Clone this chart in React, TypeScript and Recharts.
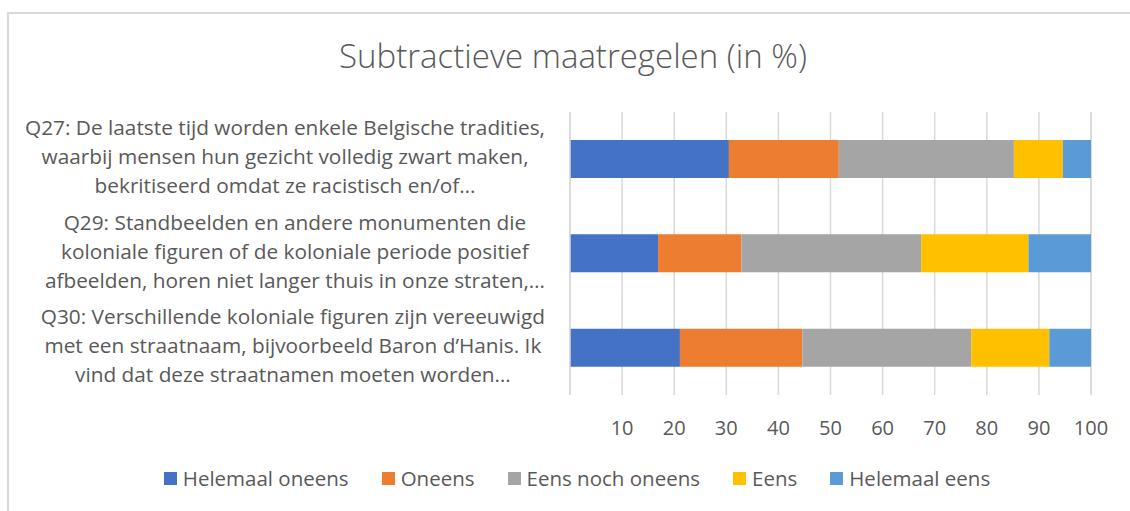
import React from "react";
import { BarChart, Bar, XAxis, YAxis, CartesianGrid } from "recharts";

const categories: string[][] = [
  [
    "Q27: De laatste tijd worden enkele Belgische tradities,",
    "waarbij mensen hun gezicht volledig zwart maken,",
    "bekritiseerd omdat ze racistisch en/of…",
  ],
  [
    "Q29: Standbeelden en andere monumenten die",
    "koloniale figuren of de koloniale periode positief",
    "afbeelden, horen niet langer thuis in onze straten,…",
  ],
  [
    "Q30: Verschillende koloniale figuren zijn vereeuwigd",
    "met een straatnaam, bijvoorbeeld Baron d’Hanis. Ik",
    "vind dat deze straatnamen moeten worden…",
  ],
];

const helemaalOneens = [30.5, 16.9, 21.1];
const oneens = [21.1, 16.0, 23.5];
const eensNochOneens = [33.6, 34.5, 32.4];
const eens = [9.4, 20.6, 15.0];
const helemaalEens = [5.4, 12.0, 8.0];

const xTicks = [0, 10, 20, 30, 40, 50, 60, 70, 80, 90, 100];

const series = [
  { key: "helemaalOneens", name: "Helemaal oneens", color: "#4472C4" },
  { key: "oneens", name: "Oneens", color: "#ED7D31" },
  { key: "eensNochOneens", name: "Eens noch oneens", color: "#A5A5A5" },
  { key: "eens", name: "Eens", color: "#FFC000" },
  { key: "helemaalEens", name: "Helemaal eens", color: "#5B9BD5" },
];

const data = categories.map((lines, i) => ({
  name: lines.join(" "),
  helemaalOneens: helemaalOneens[i],
  oneens: oneens[i],
  eensNochOneens: eensNochOneens[i],
  eens: eens[i],
  helemaalEens: helemaalEens[i],
}));

const FONT = "'Open Sans', Lato, sans-serif";
const TEXT = "#595959";
const LABEL_SIZE = 20.8;

let ctx: CanvasRenderingContext2D | null = null;
const measure = (s: string) => {
  if (!ctx) ctx = document.createElement("canvas").getContext("2d");
  if (!ctx) return s.length * LABEL_SIZE * 0.53;
  ctx.font = `${LABEL_SIZE}px 'Open Sans'`;
  return ctx.measureText(s).width;
};

const CategoryTick = (props: any) => {
  const { x, y, payload } = props;
  const lines = categories[payload.index] ?? [String(payload.value)];
  const maxW = Math.max(...lines.map(measure));
  const cx = x - 17 - maxW / 2;
  const lh = 29;
  const top = y - 2 - ((lines.length - 1) * lh) / 2;
  return (
    <text textAnchor="middle" fill={TEXT} fontSize={LABEL_SIZE} fontFamily={FONT}>
      {lines.map((l, i) => (
        <tspan key={i} x={cx} y={top + i * lh} dy="0.35em">
          {l}
        </tspan>
      ))}
    </text>
  );
};

const LegendBox = () => (
  <div
    style={{
      position: "absolute",
      top: 465,
      left: 0,
      width: 1154,
      display: "flex",
      justifyContent: "center",
      gap: 33,
      fontFamily: FONT,
      fontSize: 20.5,
      color: TEXT,
      lineHeight: "26px",
    }}
  >
    {series.map((s) => (
      <div key={s.key} style={{ display: "flex", alignItems: "center", gap: 6 }}>
        <span style={{ width: 13, height: 13, background: s.color, display: "inline-block" }} />
        <span>{s.name}</span>
      </div>
    ))}
  </div>
);

export default function App() {
  return (
    <div style={{ position: "absolute", left: 0, top: 0, width: 1130, height: 511, overflow: "hidden", background: "#fff" }}>
      <div
        style={{
          position: "absolute",
          left: 7,
          top: 12,
          width: 1200,
          height: 600,
          borderTop: "2px solid #d9d9d9",
          borderLeft: "2px solid #d9d9d9",
        }}
      />
      <div
        style={{
          position: "absolute",
          top: 33,
          left: 0,
          width: 1146,
          textAlign: "center",
          fontFamily: FONT,
          fontWeight: 300,
          fontSize: 33,
          lineHeight: "46px",
          color: TEXT,
        }}
      >
        Subtractieve maatregelen (in %)
      </div>
      <div style={{ position: "absolute", left: 0, top: 0 }}>
        <BarChart
          width={1130}
          height={511}
          data={data}
          layout="vertical"
          margin={{ top: 112, right: 39, bottom: 66, left: 0 }}
          barSize={38}
        >
          <CartesianGrid horizontal={false} stroke="#d9d9d9" strokeWidth={1.5} />
          <XAxis
            type="number"
            domain={[0, 100]}
            ticks={xTicks}
            tickFormatter={(v: number) => (v === 0 ? "" : String(v))}
            axisLine={false}
            tickLine={false}
            tickMargin={20}
            height={50}
            tick={{ fill: TEXT, fontSize: 20, fontFamily: FONT }}
          />
          <YAxis
            type="category"
            dataKey="name"
            width={570}
            axisLine={{ stroke: "#d9d9d9", strokeWidth: 1.5 }}
            tickLine={false}
            tick={<CategoryTick />}
          />
          {series.map((s) => (
            <Bar key={s.key} dataKey={s.key} name={s.name} stackId="a" fill={s.color} isAnimationActive={false} />
          ))}
        </BarChart>
      </div>
      <LegendBox />
    </div>
  );
}
